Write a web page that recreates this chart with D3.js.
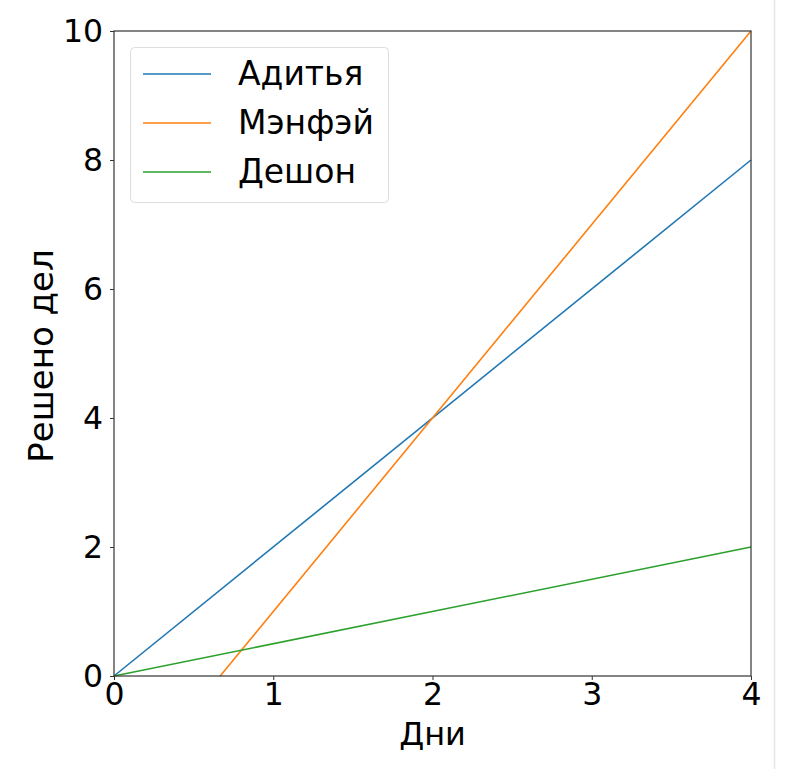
<!DOCTYPE html>
<html><head><meta charset="utf-8">
<script src="https://cdn.jsdelivr.net/npm/d3@7"></script>
<style>body{margin:0;background:#fff}svg{display:block}text{font-family:"DejaVu Sans",sans-serif}</style>
</head><body><svg id="c" width="785" height="769"></svg>
<script>
const xTicks=[0,1,2,3,4];
const yTicks=[0,2,4,6,8,10];
const seriesNames=["Адитья","Мэнфэй","Дешон"];
const seriesColors=["#1f77b4","#ff7f0e","#2ca02c"];
const aditya=[[0,0],[4,8]];
const manfei=[[0.6667,0],[4,10]];
const deshon=[[0,0],[4,2]];
const seriesData=[aditya,manfei,deshon];
const xLabel="Дни", yLabel="Решено дел";

const svg=d3.select("#c");
const L=114,R=751,T=31,B=676;
const x=d3.scaleLinear().domain([0,4]).range([L,R]);
const y=d3.scaleLinear().domain([0,10]).range([B,T]);

svg.append("line").attr("x1",774.5).attr("x2",774.5).attr("y1",0).attr("y2",769).attr("stroke","#e6e6e6").attr("stroke-width",1.5);

const line=d3.line().x(d=>x(d[0])).y(d=>y(d[1]));
seriesData.forEach((s,i)=>{
  svg.append("path").datum(s).attr("d",line).attr("fill","none").attr("stroke",seriesColors[i]).attr("stroke-width",1.6);
});

const xa=svg.append("g").attr("transform",`translate(0,${B})`).call(d3.axisBottom(x).tickValues(xTicks).tickFormat(d3.format("d")).tickSize(4).tickPadding(3));
const ya=svg.append("g").attr("transform",`translate(${L},0)`).call(d3.axisLeft(y).tickValues(yTicks).tickFormat(d3.format("d")).tickSize(4).tickPadding(7));
[xa,ya].forEach(a=>{a.select(".domain").remove();a.selectAll("line").attr("stroke","#333").attr("stroke-width",1);a.selectAll("text").attr("font-size",31.5).attr("fill","#000").attr("font-family","DejaVu Sans");});
svg.append("rect").attr("x",L).attr("y",T).attr("width",R-L).attr("height",B-T).attr("fill","none").attr("stroke","#333").attr("stroke-width",1.2);

svg.append("text").attr("x",(L+R)/2).attr("y",745).attr("text-anchor","middle").attr("font-size",32).text(xLabel);
svg.append("text").attr("transform",`translate(53,356) rotate(-90)`).attr("text-anchor","middle").attr("font-size",34).text(yLabel);

const lg=svg.append("g");
lg.append("rect").attr("x",130.5).attr("y",47.5).attr("width",258).attr("height",155).attr("rx",4).attr("fill","#fff").attr("fill-opacity",0.8).attr("stroke","#ddd");
seriesNames.forEach((n,i)=>{
  const yy=74+i*49;
  lg.append("line").attr("x1",143).attr("x2",211).attr("y1",yy).attr("y2",yy).attr("stroke",seriesColors[i]).attr("stroke-width",1.6);
  lg.append("text").attr("x",238).attr("y",yy+11).attr("font-size",33).text(n);
});
</script></body></html>
